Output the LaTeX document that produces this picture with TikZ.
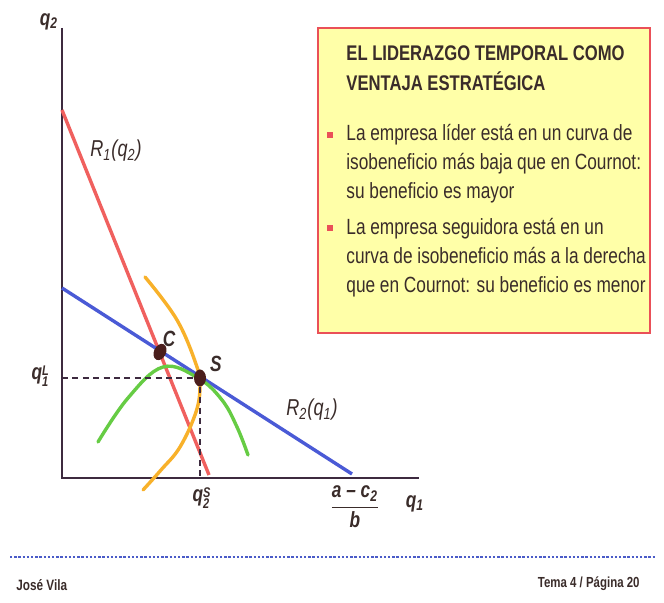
\documentclass[tikz,border=0pt]{standalone}
\usepackage{fontspec}
\setmainfont{Liberation Sans}[FakeStretch=0.785]
\usetikzlibrary{calc,positioning,shapes.geometric}
\definecolor{axiscol}{HTML}{3D2A3F}
\definecolor{inkcol}{HTML}{3A2C2A}
\definecolor{reactone}{HTML}{F0605E}
\definecolor{reacttwo}{HTML}{4A5AD6}
\definecolor{isolead}{HTML}{66CC44}
\definecolor{isofollow}{HTML}{F8B12A}
\definecolor{boxfill}{HTML}{FFFFA8}
\definecolor{boxline}{HTML}{EA5058}
\definecolor{pointcol}{HTML}{4B1E1C}
\definecolor{footdot}{HTML}{4A5BC8}
\tikzset{x=.5pt,y=-.5pt,
  every node/.style={text=inkcol,inner sep=0pt,font=\fontsize{11}{13}\selectfont},
  axis/.style={draw=axiscol,line width=1.2pt},
  guide/.style={draw=axiscol,line width=.7pt,dash pattern=on 3pt off 2.2pt},
  react/.style={line width=1.7pt},
  iso/.style={line width=1.7pt,line cap=round},
  eqpoint/.style={ellipse,fill=pointcol,minimum width=6pt,minimum height=8.5pt},
  varlabel/.style={font=\fontsize{11}{13}\selectfont\bfseries\itshape},
  curvelabel/.style={font=\fontsize{11.5}{13}\selectfont\itshape},
  bodytext/.style={anchor=base west,align=left,font=\fontsize{11}{14.5}\selectfont},
  bulletmark/.style={fill=boxline,minimum size=3pt}}
% quantity with sub- and superscript stacked
\newcommand{\qss}[2]{\textit{q}\rlap{\raisebox{.35ex}{\scriptsize\textit{#2}}}\raisebox{-.55ex}{\scriptsize\textit{#1}}}

\begin{document}
\begin{tikzpicture}
\useasboundingbox[fill=white] (0,0) rectangle (664,603);
% axes
\coordinate (origin) at (62,478);
\coordinate (ytop) at (62,28);
\coordinate (xend) at (419,478);
\draw[axis] (ytop)--(origin)--(xend);
\node[varlabel] (q2lab) at (49,22) {\textit{q}\textsubscript{2}};
\node[varlabel] (q1lab) at (415,504) {\textit{q}\textsubscript{1}};
% reaction functions
\coordinate (r1top) at (62,110);\coordinate (r1bot) at (209,475);
\coordinate (r2top) at (62,288);\coordinate (r2bot) at (352,474);
\draw[react,reactone] (r1top)--(r1bot);
\draw[react,reacttwo] (r2top)--(r2bot);
% isoprofit curves
\draw[iso,isofollow] plot[smooth,tension=.65] coordinates {(145,277) (177,320) (197,367) (200,386) (196,412) (180,447) (161,470) (143,490)};
\draw[iso,isolead] plot[smooth,tension=.65] coordinates {(98,442) (128,398) (163,367) (198,378) (222,400) (237,427) (248,455)};
% equilibria
\node[eqpoint,rotate=-25] (C) at (160,352) {};
\node[eqpoint] (S) at (200,378) {};
\coordinate (sx) at (S|-origin);\coordinate (sy) at (S-|origin);
\draw[guide] (sy)--(S);
\draw[guide] (S)--(sx);
\node[varlabel] (Clab) at (169,339) {C};
\node[varlabel] (Slab) at (216,364) {S};
\node[varlabel] (q1L) at (40,376) {\qss{1}{L}};
\node[varlabel] (q2S) at (201,498) {\qss{2}{S}};
\node[varlabel] (xmax) at (355,507) {$\displaystyle\frac{\mbox{\textit{a} -- \textit{c}\textsubscript{2}}}{\mbox{\textit{b}}}$};
\node[curvelabel] (R1lab) at (116,151) {\textit{R}\textsubscript{1}(\textit{q}\textsubscript{2})};
\node[curvelabel] (R2lab) at (312,410) {\textit{R}\textsubscript{2}(\textit{q}\textsubscript{1})};
% text box
\draw[boxline,fill=boxfill,line width=1.3pt] (318,28) rectangle (650,333);
\node[bodytext,font=\fontsize{10.6}{15}\selectfont\bfseries] (title) at (346,91) {EL LIDERAZGO TEMPORAL COMO\\VENTAJA ESTRATÉGICA};
\node[bulletmark] (b1) at (330,135) {};
\node[bodytext] (lead) at (346,199) {La empresa líder está en un curva de\\isobeneficio más baja que en Cournot:\\su beneficio es mayor};
\node[bulletmark] (b2) at (330,228) {};
\node[bodytext] (follow) at (346,293) {La empresa seguidora está en un\\curva de isobeneficio más a la derecha\\que en Cournot: su beneficio es menor};
% footer
\coordinate (dotl) at (10,557);\coordinate (dotr) at (656,557);
\draw[footdot,line width=1.2pt,dash pattern=on 1.2pt off .9pt] (dotl)--(dotr);
\node[anchor=west,font=\fontsize{7.5}{8}\selectfont\bfseries] (author) at (16,585) {José Vila};
\node[anchor=east,font=\fontsize{7.3}{8}\selectfont\bfseries] (page) at (640,584) {Tema 4 / Página 20};
\end{tikzpicture}
\end{document}
